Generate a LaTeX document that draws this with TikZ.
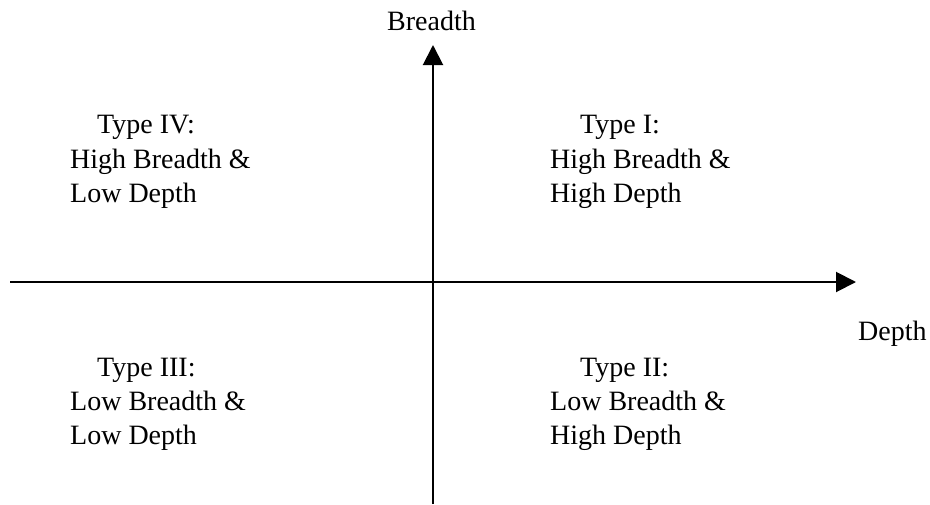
\documentclass[tikz,border=0pt]{standalone}
\usepackage{fontspec}
\setmainfont{Liberation Serif}
\usetikzlibrary{arrows.meta}
\begin{document}
\begin{tikzpicture}[x=1pt,y=-1pt,
  txt/.style={inner sep=0pt,anchor=base west,font=\fontsize{28}{34}\selectfont},
  axis/.style={line width=2pt,-{Triangle[length=20pt,width=20pt]}}]
\useasboundingbox (0,0) rectangle (930,504);
\coordinate (vb) at (433,504);
\coordinate (vt) at (433,45);
\coordinate (hl) at (10,282);
\coordinate (hr) at (856,282);
\draw[axis] (vb) -- (vt);
\draw[axis] (hl) -- (hr);
\node[txt] (breadth) at (387,30) {Breadth};
\node[txt] (depth) at (858,340) {Depth};
% Type IV
\node[txt] (t4a) at (97,133) {Type IV:};
\node[txt] (t4b) at (70,168) {High Breadth \&};
\node[txt] (t4c) at (70,202) {Low Depth};
% Type I
\node[txt] (t1a) at (580,133) {Type I:};
\node[txt] (t1b) at (550,168) {High Breadth \&};
\node[txt] (t1c) at (550,202) {High Depth};
% Type III
\node[txt] (t3a) at (97,376) {Type III:};
\node[txt] (t3b) at (70,410) {Low Breadth \&};
\node[txt] (t3c) at (70,444) {Low Depth};
% Type II
\node[txt] (t2a) at (580,376) {Type II:};
\node[txt] (t2b) at (550,410) {Low Breadth \&};
\node[txt] (t2c) at (550,444) {High Depth};
\end{tikzpicture}
\end{document}
